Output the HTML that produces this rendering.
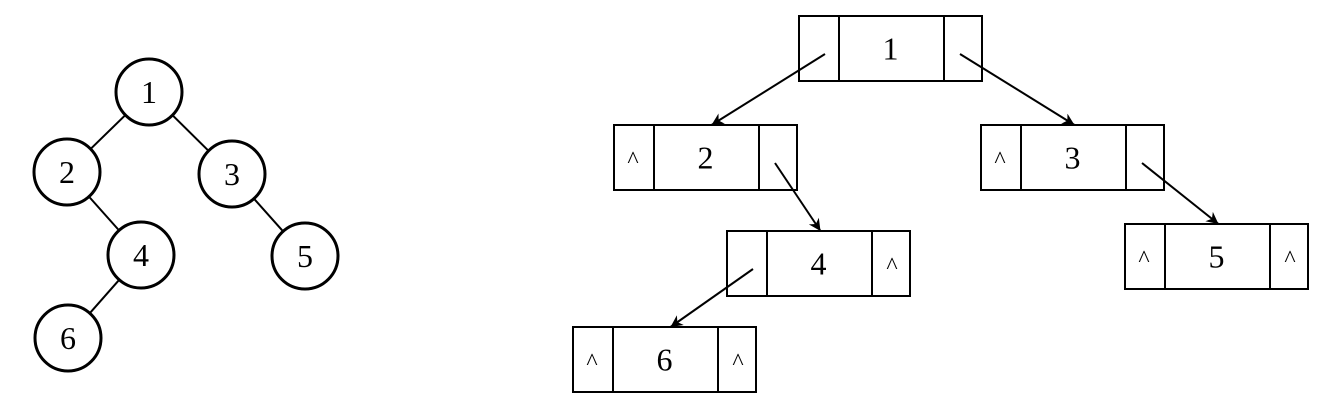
<!DOCTYPE html>
<html><head><meta charset="utf-8"><style>
html,body{margin:0;padding:0;background:#fff;}
svg{display:block;}
text{font-family:"Liberation Serif",serif;fill:#000;}
</style></head><body>
<svg width="1324" height="405" viewBox="0 0 1324 405">
<defs><marker id="ah" viewBox="0 0 10 10" refX="10" refY="5" markerWidth="20" markerHeight="12" markerUnits="userSpaceOnUse" orient="auto"><path d="M0,0 L10,5 L0,10 L3,5 z" fill="#000"/></marker></defs>
<g id="tree"></g>
<g id="linked"></g>
</svg>
<script>
const nodeLabels=["1","2","3","4","5","6"];
const circleX=[149,67,232,141,305,68];
const circleY=[92,172,174,255,256,338];
const edges=[[0,1],[0,2],[1,3],[2,4],[3,5]];
const boxX=[799,614,981,727,1125,573];
const boxY=[16,125,125,231,224,327];
const leftNull=[false,true,true,false,true,true];
const rightNull=[false,false,false,true,true,true];
const NS="http://www.w3.org/2000/svg";
const R=33;
const tree=document.getElementById('tree');
edges.forEach(([a,b])=>{
  const dx=circleX[b]-circleX[a],dy=circleY[b]-circleY[a],d=Math.hypot(dx,dy);
  const l=document.createElementNS(NS,'line');
  l.setAttribute('x1',circleX[a]+dx/d*R);l.setAttribute('y1',circleY[a]+dy/d*R);
  l.setAttribute('x2',circleX[b]-dx/d*R);l.setAttribute('y2',circleY[b]-dy/d*R);
  l.setAttribute('stroke','#000');l.setAttribute('stroke-width','2');
  
  
  tree.appendChild(l);
});
nodeLabels.forEach((t,i)=>{
  const c=document.createElementNS(NS,'circle');
  c.setAttribute('cx',circleX[i]);c.setAttribute('cy',circleY[i]);c.setAttribute('r',R);
  c.setAttribute('fill','#fff');c.setAttribute('stroke','#000');c.setAttribute('stroke-width','3');
  
  
  tree.appendChild(c);
  const tx=document.createElementNS(NS,'text');
  tx.setAttribute('x',circleX[i]);tx.setAttribute('y',circleY[i]+11);
  tx.setAttribute('text-anchor','middle');tx.setAttribute('font-size','32');
  tx.textContent=t;
  
  
  tree.appendChild(tx);
});
const W=183,H=65,S=40;
const linked=document.getElementById('linked');
nodeLabels.forEach((t,i)=>{
  const x=boxX[i],y=boxY[i];
  const g=document.createElementNS(NS,'g');
  
  
  g.innerHTML=`<rect x="${x}" y="${y}" width="${W}" height="${H}" fill="#fff" stroke="#000" stroke-width="2"/>
<line x1="${x+S}" y1="${y}" x2="${x+S}" y2="${y+H}" stroke="#000" stroke-width="2"/>
<line x1="${x+W-S+2}" y1="${y}" x2="${x+W-S+2}" y2="${y+H}" stroke="#000" stroke-width="2"/>
<text x="${x+S+(W-2*S)/2}" y="${y+H/2+11}" text-anchor="middle" font-size="32">${t}</text>
${leftNull[i]?`<text x="${x+19}" y="${y+H/2+10}" text-anchor="middle" font-size="24">^</text>`:''}
${rightNull[i]?`<text x="${x+W-18}" y="${y+H/2+10}" text-anchor="middle" font-size="24">^</text>`:''}`;
  linked.appendChild(g);
});
edges.forEach(([a,b])=>{
  const isLeft=circleX[b]<circleX[a];
  const x1=isLeft?boxX[a]+26:boxX[a]+W-22, y1=boxY[a]+38;
  const x2=boxX[b]+S+(W-2*S)/2+(isLeft?6:2), y2=boxY[b];
  const l=document.createElementNS(NS,'line');
  l.setAttribute('x1',x1);l.setAttribute('y1',y1);l.setAttribute('x2',x2);l.setAttribute('y2',y2);
  l.setAttribute('stroke','#000');l.setAttribute('stroke-width','2');
  l.setAttribute('marker-end','url(#ah)');
  
  
  linked.appendChild(l);
});
</script>
</body></html>
